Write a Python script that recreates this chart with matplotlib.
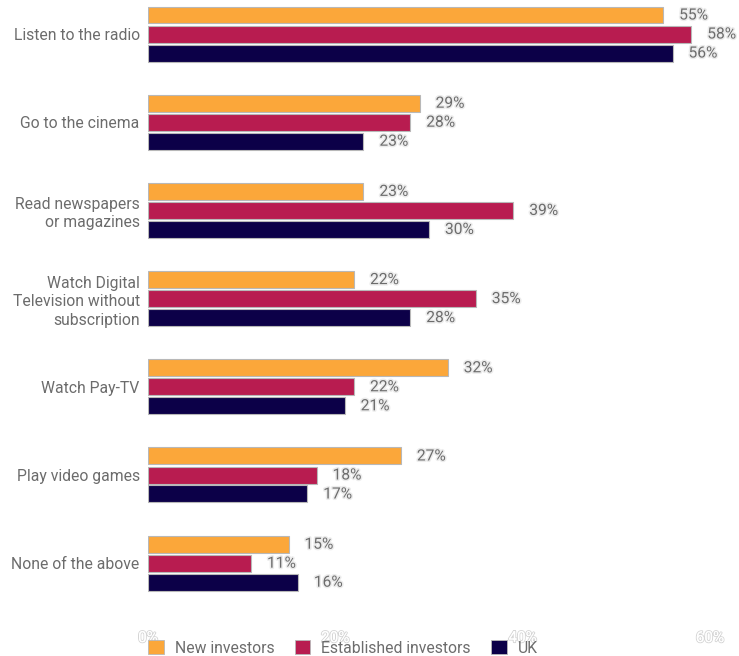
import matplotlib
matplotlib.use("Agg")
import matplotlib.pyplot as plt
import matplotlib.patheffects as pe
from matplotlib.patches import Patch

categories = [
    "Listen to the radio",
    "Go to the cinema",
    "Read newspapers\nor magazines",
    "Watch Digital\nTelevision without\nsubscription",
    "Watch Pay-TV",
    "Play video games",
    "None of the above",
]
new_investors = [55, 29, 23, 22, 32, 27, 15]
established_investors = [58, 28, 39, 35, 22, 18, 11]
uk = [56, 23, 30, 28, 21, 17, 16]
series_names = ["New investors", "Established investors", "UK"]
x_ticks = [0, 20, 40, 60]

colors = ["#FBA73A", "#B81C50", "#0C0048"]
text_gray = "#6c6c6c"

W, H = 739, 656
fig = plt.figure(figsize=(W / 100, H / 100), dpi=100)
plt.rcParams["font.family"] = ["Roboto", "DejaVu Sans"]

ax_top, ax_bot = 0, 620
left_px, right_px = 148, 710
ax = fig.add_axes([left_px / W, 1 - ax_bot / H, (right_px - left_px) / W, (ax_bot - ax_top) / H])

step = 88.2
first_center = 34
ax.set_ylim((ax_bot - first_center) / step, (ax_top - first_center) / step)
ax.set_xlim(0, 60)

bar_h = 17 / step
offset = 19 / step
series = [new_investors, established_investors, uk]
label_pad = 16 * 60 / (right_px - left_px)

for k, vals in enumerate(series):
    for i, v in enumerate(vals):
        y = i + (k - 1) * offset
        ax.barh(y, v, height=bar_h, color=colors[k], edgecolor="#b8b8b8", linewidth=0.8)
        ax.text(v + label_pad, y, f"{v}%", va="center", ha="left", fontsize=11.2,
                color=text_gray,
                path_effects=[pe.withStroke(linewidth=2.2, foreground="#ececec")])

ax.set_yticks(range(len(categories)))
ax.set_yticklabels(categories, fontsize=11.3, color=text_gray, linespacing=1.3)
ax.tick_params(axis="y", length=0, pad=6)

ax.set_xticks(x_ticks)
ax.set_xticklabels([f"{t}%" for t in x_ticks])
ax.tick_params(axis="x", length=0, pad=8)
for lbl in ax.get_xticklabels():
    lbl.set_fontsize(11)
    lbl.set_color("white")
    lbl.set_path_effects([pe.withStroke(linewidth=1.4, foreground="#d5d5d5"), pe.Normal()])

for s in ax.spines.values():
    s.set_visible(False)

handles = [Patch(facecolor=c, edgecolor="#b8b8b8", linewidth=0.6, label=n) for c, n in zip(colors, series_names)]
leg = fig.legend(handles=handles, loc="center left", bbox_to_anchor=(148 / W, 1 - 648 / H),
                 ncol=3, frameon=False, fontsize=11.3, handlelength=1.0, handleheight=1.0,
                 handletextpad=0.7, columnspacing=1.3, borderaxespad=0, borderpad=0)
for t in leg.get_texts():
    t.set_color(text_gray)

fig.savefig("out.png", dpi=100)
